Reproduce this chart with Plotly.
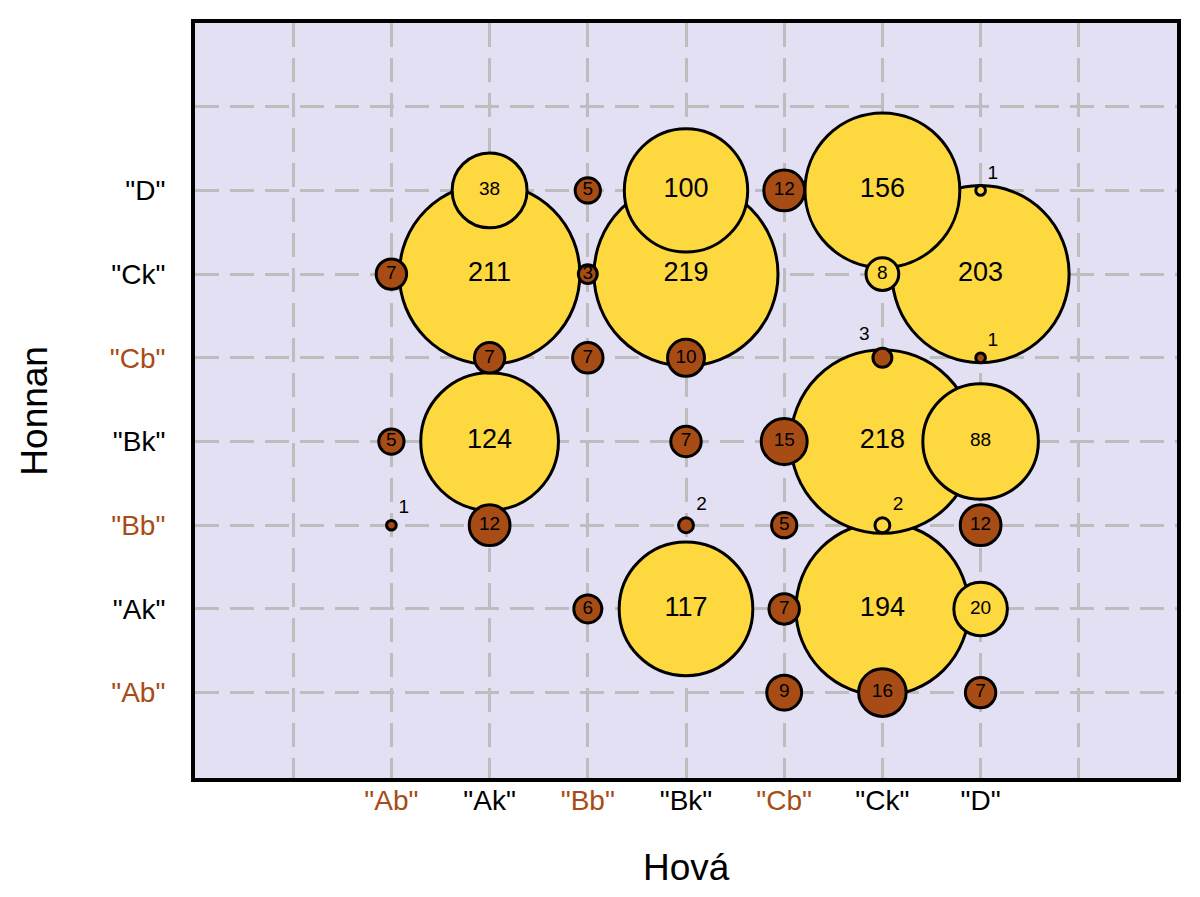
import plotly.graph_objects as go

cats = ['Ab', 'Ak', 'Bb', 'Bk', 'Cb', 'Ck', 'D']
cat_is_b = [True, False, True, False, True, False, False]

# one entry per bubble, listed in drawing order (big yellow first, brown last)
hova = ['Bk', 'Ak', 'D', 'Ck', 'Ck', 'Ck', 'Ak', 'Bk', 'Bk', 'D', 'Ak', 'D', 'Ck', 'Ck', 'D',
        'Bb', 'Cb', 'Ab', 'Bb', 'Ak', 'Bb', 'Bk', 'Ck', 'D', 'Ab', 'Bk', 'Cb',
        'Ab', 'Ak', 'Bk', 'Cb', 'D', 'Bb', 'Cb', 'Cb', 'Ck', 'D']
honnan = ['Ck', 'Ck', 'Ck', 'Ak', 'Bk', 'D', 'Bk', 'Ak', 'D', 'Bk', 'D', 'Ak', 'Ck', 'Bb', 'D',
          'D', 'D', 'Ck', 'Ck', 'Cb', 'Cb', 'Cb', 'Cb', 'Cb', 'Bk', 'Bk', 'Bk',
          'Bb', 'Bb', 'Bb', 'Bb', 'Bb', 'Ak', 'Ak', 'Ab', 'Ab', 'Ab']
darab = [219, 211, 203, 194, 218, 156, 124, 117, 100, 88, 38, 20, 8, 2, 1,
         5, 12, 7, 3, 7, 7, 10, 3, 1, 5, 7, 15,
         1, 12, 2, 5, 12, 6, 7, 9, 16, 7]
fajta = ['k'] * 15 + ['b'] * 22

YELLOW = '#FDD83E'
BROWN = '#A84C16'
FONT = 'Liberation Sans, Arial, sans-serif'
LW = 3
MAX_D = 187  # outer diameter of the largest bubble, px

xs = [cats.index(c) for c in hova]
ys = [cats.index(c) for c in honnan]
colors = [YELLOW if f == 'k' else BROWN for f in fajta]
# bubble area (outline included) proportional to the count
sizes = [MAX_D * (v / max(darab)) ** 0.5 - LW for v in darab]

textpos = []
for h, f, v in zip(hova, honnan, darab):
    if v <= 2:
        textpos.append('top right')
    elif v == 3 and f == 'Cb':
        textpos.append('top left')
    else:
        textpos.append('middle center')
textsize = [27 if v >= 100 else 19 for v in darab]

fig = go.Figure(go.Scatter(
    x=xs, y=ys, mode='markers+text',
    text=[str(v) for v in darab],
    textposition=textpos,
    textfont=dict(family=FONT, size=textsize, color='black'),
    marker=dict(size=sizes, sizemode='diameter', color=colors, opacity=1,
                line=dict(color='black', width=LW)),
    hoverinfo='skip', showlegend=False,
))


def ticklabel(name, is_b):
    if is_b:
        return '<span style="color:%s">"%s"</span>' % (BROWN, name)
    return '"%s"' % name


xt = [''] + [ticklabel(c, b) for c, b in zip(cats, cat_is_b)] + ['']
yt = [ticklabel(c, b) for c, b in zip(cats, cat_is_b)] + ['']

axis_common = dict(
    showline=True, mirror=True, linecolor='black', linewidth=4,
    showgrid=True, gridcolor='#BDBDBD', gridwidth=3, griddash='24px,11px',
    zeroline=False, ticks='', tickfont=dict(family=FONT, size=28, color='black'),
)

fig.update_xaxes(range=[-2, 8], tickvals=list(range(-1, 8)), ticktext=xt,
                 ticklabelstandoff=-6, **axis_common)
fig.update_yaxes(range=[-1.02, 8], tickvals=list(range(0, 8)), ticktext=yt,
                 ticklabelstandoff=20, **axis_common)

fig.add_annotation(text='Hová', xref='paper', yref='paper', x=0.5, y=-0.1186,
                   xanchor='center', yanchor='middle', showarrow=False,
                   font=dict(family=FONT, size=37, color='black'))
fig.add_annotation(text='Honnan', xref='paper', yref='paper', x=-0.1636, y=0.487,
                   xanchor='center', yanchor='middle', textangle=-90, showarrow=False,
                   font=dict(family=FONT, size=37, color='black'))

fig.update_layout(
    width=1200, height=897,
    margin=dict(l=187, r=31, t=11, b=127),
    plot_bgcolor='#E3E0F4', paper_bgcolor='white',
    font=dict(family=FONT),
)

fig.write_html('out.html')
